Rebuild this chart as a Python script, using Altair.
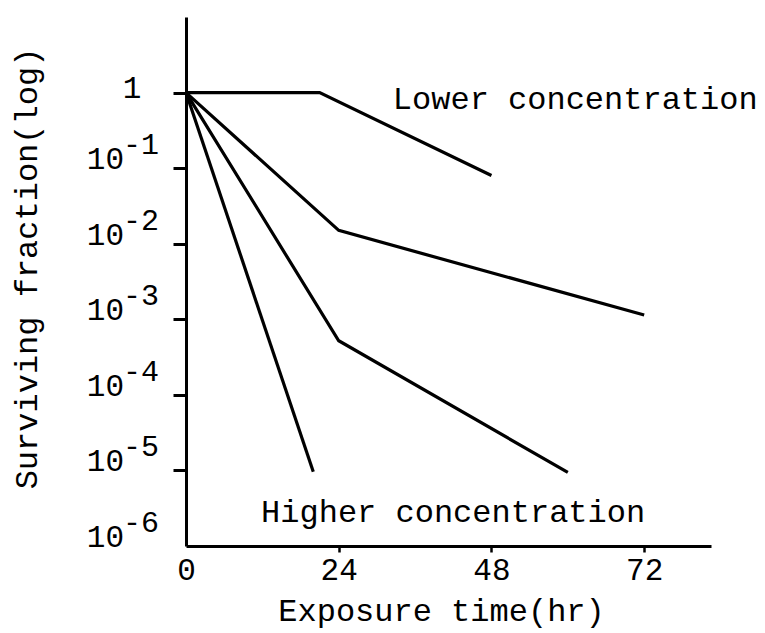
import altair as alt
import pandas as pd

# Survival curves: surviving fraction vs exposure time, one curve per dose level
curve_ids = ["c1", "c1", "c1", "c2", "c2", "c2", "c3", "c3", "c3", "c4", "c4"]
hours = [0, 21, 48, 0, 24, 72, 0, 24, 60, 0, 20]
fractions = [1, 1, 0.08, 1, 0.015, 0.00114, 1, 5.2e-4, 9.4e-6, 1, 9.6e-6]

# Axis ticks and labels
x_ticks = [0, 24, 48, 72]
y_ticks = [1, 1e-1, 1e-2, 1e-3, 1e-4, 1e-5, 1e-6]
y_bases = ["1", "10", "10", "10", "10", "10", "10"]
y_exponents = ["", "-1", "-2", "-3", "-4", "-5", "-6"]

# Annotations (anchored at their left baseline)
notes = ["Lower concentration", "Higher concentration"]
note_hours = [32.5, 11.8]
note_fracs = [0.6, 2.1e-6]

FONT = "Liberation Mono"

curves = pd.DataFrame({"curve": curve_ids, "hour": hours, "frac": fractions})
ticks = pd.DataFrame({"frac": y_ticks, "base": y_bases, "sup": y_exponents})
labels = pd.DataFrame({"hour": note_hours, "frac": note_fracs, "text": notes})

x_scale = alt.Scale(domain=[0, 82.5], nice=False, zero=False)
y_scale = alt.Scale(type="log", domain=[1e-6, 10], nice=False)

x_axis = alt.Axis(
    values=x_ticks,
    grid=False,
    domainColor="black",
    domainWidth=3,
    tickColor={"condition": {"test": "datum.value === 0", "value": "transparent"}, "value": "black"},
    tickWidth=2.5,
    tickSize=6,
    labelFont=FONT,
    labelFontSize=31,
    labelColor="black",
    labelPadding=3,
    labelFlush=False,
    labelOverlap=False,
    title="Exposure time(hr)",
    titleFont=FONT,
    titleFontSize=32,
    titleFontWeight="normal",
    titleColor="black",
    titleX=255,
    titleY=64,
    titleAlign="center",
    titleBaseline="middle",
)

y_axis = alt.Axis(
    values=y_ticks[:-1],
    grid=False,
    labels=False,
    domainColor="black",
    domainWidth=3,
    tickColor="black",
    tickWidth=3,
    tickSize=13,
    title="Surviving fraction(log)",
    titleFont=FONT,
    titleFontSize=32,
    titleFontWeight="normal",
    titleColor="black",
    titleAngle=270,
    titleX=-160,
    titleY=251,
    titleAlign="center",
    titleBaseline="middle",
)

lines = alt.Chart(curves).mark_line(color="black", strokeWidth=3.2).encode(
    x=alt.X("hour:Q", scale=x_scale, axis=x_axis),
    y=alt.Y("frac:Q", scale=y_scale, axis=y_axis),
    detail="curve:N",
    order="hour:Q",
)

tick_base = alt.Chart(ticks)

one_label = tick_base.transform_filter("datum.sup == ''").mark_text(
    font=FONT, fontSize=31, color="black", align="center", baseline="middle", dy=-4
).encode(x=alt.value(-54), y=alt.Y("frac:Q", scale=y_scale, axis=y_axis), text="base:N")

ten_labels = tick_base.transform_filter("datum.sup != ''").mark_text(
    font=FONT, fontSize=31, color="black", align="right", baseline="middle", dy=-8
).encode(x=alt.value(-62), y=alt.Y("frac:Q", scale=y_scale, axis=y_axis), text="base:N")

sup_labels = tick_base.transform_filter("datum.sup != ''").mark_text(
    font=FONT, fontSize=30, color="black", align="left", baseline="middle", dy=-23
).encode(x=alt.value(-63), y=alt.Y("frac:Q", scale=y_scale, axis=y_axis), text="sup:N")

notes_layer = alt.Chart(labels).mark_text(
    font=FONT, fontSize=32, color="black", align="left", baseline="alphabetic"
).encode(
    x=alt.X("hour:Q", scale=x_scale, axis=x_axis),
    y=alt.Y("frac:Q", scale=y_scale, axis=y_axis),
    text="text:N",
)

chart = (
    alt.layer(lines, one_label, ten_labels, sup_labels, notes_layer)
    .properties(
        width=525,
        height=529,
        autosize=alt.AutoSizeParams(type="none"),
        padding={"left": 186, "top": 17, "right": 54, "bottom": 87},
        background="white",
    )
    .configure_view(stroke=None)
)

chart.save("out.html", embed_options={"renderer": "svg", "actions": False})
